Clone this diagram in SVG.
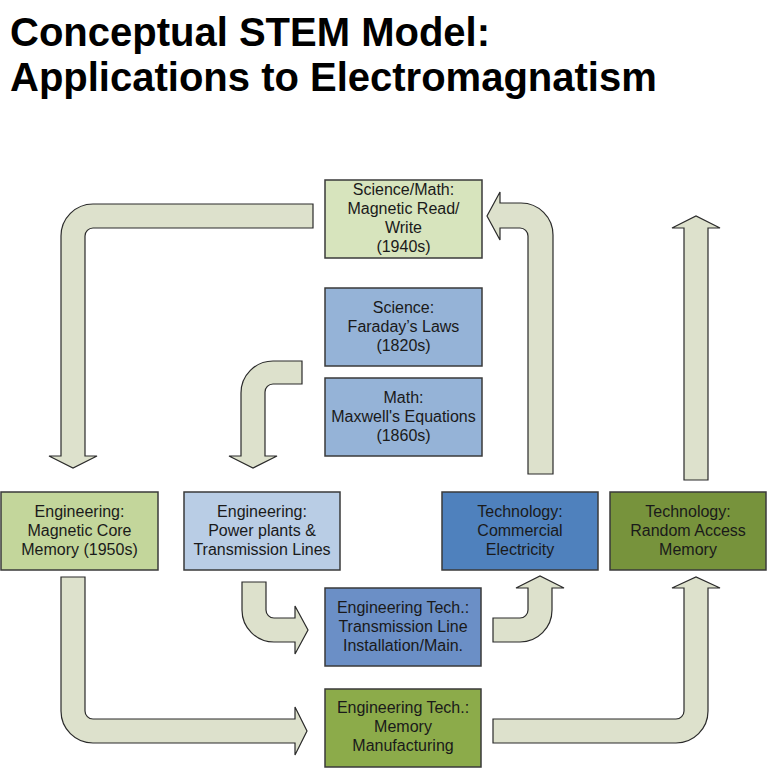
<svg xmlns="http://www.w3.org/2000/svg" width="767" height="769" viewBox="0 0 767 769">
<style>
.title{font-family:"Liberation Sans",Arial,sans-serif;font-weight:bold;font-size:40px;fill:#000}
.box{stroke:#3a3a3a;stroke-width:1.5}
.lbl{font-family:"Liberation Sans",Arial,sans-serif;font-size:16px;fill:#1a1a1a;text-anchor:middle}
.arr{fill:#dde1cc;stroke:#2a2a2a;stroke-width:1.2;stroke-linejoin:miter}
</style>
<rect width="767" height="769" fill="#fff"/>
<text class="title" x="10" y="46">Conceptual STEM Model:</text>
<text class="title" x="10" y="91">Applications to Electromagnatism</text>

<g id="connectors">
<path class="arr" d="M313,204 H93 A32,32 0 0 0 61,236 V456 H49 L73,468 L97,456 H85 V236 A8,8 0 0 1 93,228 H313 Z"/>
<path class="arr" d="M302,361 H273 A32,32 0 0 0 241,393 V456 H229 L253,468 L277,456 H265 V392 A8,8 0 0 1 273,384 H302 Z"/>
<path class="arr" d="M528,474 V236 A8,8 0 0 0 520,228 H500 V240 L487,216 L500,192 V203 H521 A32,32 0 0 1 553,235 V474 Z"/>
<path class="arr" d="M684,480 V228 H672 L696,216 L720,228 H708 V480 Z"/>
<path class="arr" d="M61,577 V711 A32,32 0 0 0 93,743 H295 V755 L307,731 L295,707 V719 H93 A8,8 0 0 1 85,711 V577 Z"/>
<path class="arr" d="M493,719 V743 H676 A32,32 0 0 0 708,711 V588 H720 L696,577 L672,588 H684 V711 A8,8 0 0 1 676,719 Z"/>
<path class="arr" d="M242,582 V610 A32,32 0 0 0 274,642 H295 V654 L308,630 L295,606 V618 H274 A8,8 0 0 1 266,610 V582 Z"/>
<path class="arr" d="M493,618 V642 H520 A32,32 0 0 0 552,610 V588 H564 L540,576 L516,588 H528 V610 A8,8 0 0 1 520,618 Z"/>
</g>

<g id="sciMath">
<rect class="box" x="325" y="180" width="157" height="78" fill="#d7e4bd"/>
<text class="lbl" x="403.5" y="195">Science/Math:</text>
<text class="lbl" x="403.5" y="214">Magnetic Read/</text>
<text class="lbl" x="403.5" y="233">Write</text>
<text class="lbl" x="403.5" y="252">(1940s)</text>
</g>
<g id="faraday">
<rect class="box" x="325" y="288" width="157" height="78" fill="#95b3d7"/>
<text class="lbl" x="403.5" y="313">Science:</text>
<text class="lbl" x="403.5" y="332">Faraday’s Laws</text>
<text class="lbl" x="403.5" y="351">(1820s)</text>
</g>
<g id="maxwell">
<rect class="box" x="325" y="378" width="157" height="78" fill="#95b3d7"/>
<text class="lbl" x="403.5" y="403">Math:</text>
<text class="lbl" x="403.5" y="422">Maxwell's Equations</text>
<text class="lbl" x="403.5" y="441">(1860s)</text>
</g>
<g id="coreMemory">
<rect class="box" x="1" y="492" width="157" height="78" fill="#c3d69b"/>
<text class="lbl" x="79.5" y="517">Engineering:</text>
<text class="lbl" x="79.5" y="536">Magnetic Core</text>
<text class="lbl" x="79.5" y="555">Memory (1950s)</text>
</g>
<g id="powerPlants">
<rect class="box" x="184" y="492" width="156" height="78" fill="#b9cde5"/>
<text class="lbl" x="262" y="517">Engineering:</text>
<text class="lbl" x="262" y="536">Power plants &amp;</text>
<text class="lbl" x="262" y="555">Transmission Lines</text>
</g>
<g id="commercialElectricity">
<rect class="box" x="442" y="492" width="156" height="78" fill="#4f81bd"/>
<text class="lbl" x="520" y="517">Technology:</text>
<text class="lbl" x="520" y="536">Commercial</text>
<text class="lbl" x="520" y="555">Electricity</text>
</g>
<g id="ram">
<rect class="box" x="610" y="492" width="156" height="78" fill="#77933c"/>
<text class="lbl" x="688" y="517">Technology:</text>
<text class="lbl" x="688" y="536">Random Access</text>
<text class="lbl" x="688" y="555">Memory</text>
</g>
<g id="transmissionLine">
<rect class="box" x="325" y="588" width="156" height="78" fill="#6b8fc6"/>
<text class="lbl" x="403" y="613">Engineering Tech.:</text>
<text class="lbl" x="403" y="632">Transmission Line</text>
<text class="lbl" x="403" y="651">Installation/Main.</text>
</g>
<g id="memoryManufacturing">
<rect class="box" x="325" y="689" width="156" height="78" fill="#8cab4a"/>
<text class="lbl" x="403" y="713">Engineering Tech.:</text>
<text class="lbl" x="403" y="732">Memory</text>
<text class="lbl" x="403" y="751">Manufacturing</text>
</g>
</svg>
